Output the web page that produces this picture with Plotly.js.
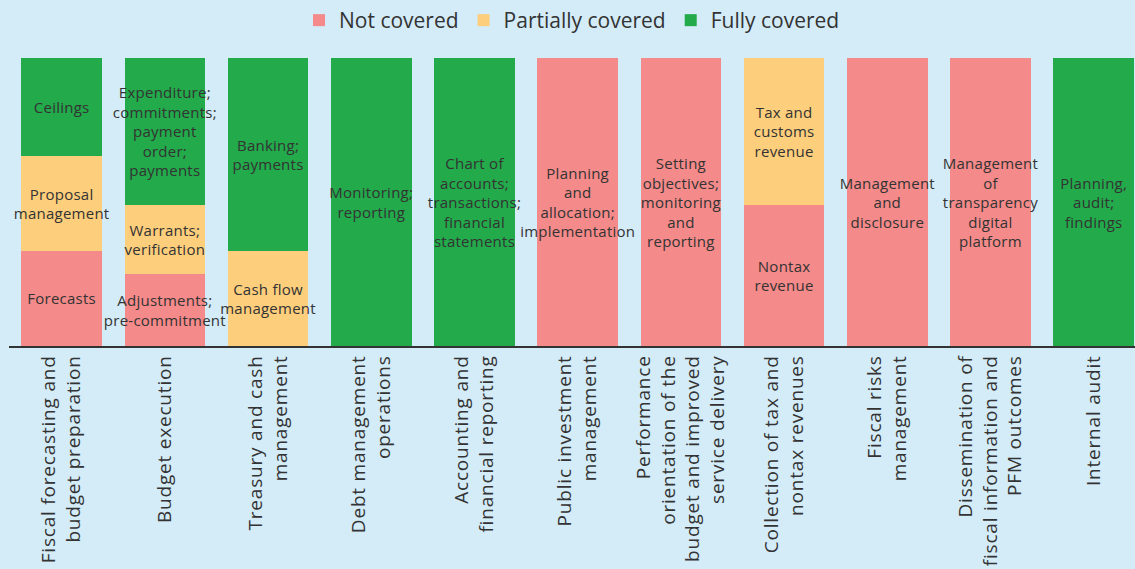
<!DOCTYPE html>
<html>
<head>
<meta charset="utf-8">
<script src="https://cdn.plot.ly/plotly-3.0.1.min.js"></script>
<style>
  html, body { margin: 0; padding: 0; background: #d3ecf8; }
  #chart { width: 1135px; height: 569px; }
  /* the original face runs wider than Open Sans */
  #chart g.xtick text { letter-spacing: 0.8px; }
  #chart text.bartext { letter-spacing: 0.25px; }
</style>
</head>
<body>
<div id="chart"></div>
<script>
// PFM functions and how much of each the system covers (share of the function, %)
const categories = [
    'Fiscal forecasting and<br>budget preparation',
    'Budget execution',
    'Treasury and cash<br>management',
    'Debt management<br>operations',
    'Accounting and<br>financial reporting',
    'Public investment<br>management',
    'Performance<br>orientation of the<br>budget and improved<br>service delivery',
    'Collection of tax and<br>nontax revenues',
    'Fiscal risks<br>management',
    'Dissemination of<br>fiscal information and<br>PFM outcomes',
    'Internal audit'
];

const notCovered       = [33, 25,  0,   0,   0, 100, 100, 49, 100, 100,   0];
const partiallyCovered = [33, 24, 33,   0,   0,   0,   0, 51,   0,   0,   0];
const fullyCovered     = [34, 51, 67, 100, 100,   0,   0,  0,   0,   0, 100];

const notLabels = [
    'Forecasts', 'Adjustments;<br>pre-commitment', '', '', '',
    'Planning<br>and<br>allocation;<br>implementation',
    'Setting<br>objectives;<br>monitoring<br>and<br>reporting',
    'Nontax<br>revenue', 'Management<br>and<br>disclosure',
    'Management<br>of<br>transparency<br>digital<br>platform', ''
];
const partialLabels = [
    'Proposal<br>management', 'Warrants;<br>verification', 'Cash flow<br>management',
    '', '', '', '', 'Tax and<br>customs<br>revenue', '', '', ''
];
const fullLabels = [
    'Ceilings', 'Expenditure;<br>commitments;<br>payment<br>order;<br>payments',
    'Banking;<br>payments', 'Monitoring;<br>reporting',
    'Chart of<br>accounts;<br>transactions;<br>financial<br>statements',
    '', '', '', '', '', 'Planning,<br>audit;<br>findings'
];

const seriesNames = ['Not covered', 'Partially covered', 'Fully covered'];
const seriesColors = ['#f48a89', '#fdce7b', '#22aa4b'];

const FONT = '"Open Sans", "Noto Sans", sans-serif';
const TEXT_COLOR = '#333333';

function makeTrace(values, labels, name, color) {
    return {
        type: 'bar',
        x: categories,
        y: values,
        name: name,
        text: labels,
        textposition: 'inside',
        insidetextanchor: 'middle',
        constraintext: 'none',
        textangle: 0,
        insidetextfont: { family: FONT, size: 15, color: TEXT_COLOR },
        marker: { color: color, line: { width: 0 } },
        hoverinfo: 'x+y+name',
        cliponaxis: false
    };
}

const data = [
    makeTrace(notCovered, notLabels, seriesNames[0], seriesColors[0]),
    makeTrace(partiallyCovered, partialLabels, seriesNames[1], seriesColors[1]),
    makeTrace(fullyCovered, fullLabels, seriesNames[2], seriesColors[2])
];

const layout = {
    width: 1135,
    height: 569,
    barmode: 'stack',
    bargap: 0.22,
    paper_bgcolor: '#d3ecf8',
    plot_bgcolor: '#d3ecf8',
    margin: { t: 58, r: 0, b: 223, l: 9 },
    font: { family: FONT, color: TEXT_COLOR },
    showlegend: true,
    legend: {
        orientation: 'h',
        traceorder: 'normal',
        x: 0.5,
        xanchor: 'center',
        y: 1.132,
        yanchor: 'middle',
        font: { family: FONT, size: 21, color: TEXT_COLOR },
        itemwidth: 30,
        itemclick: false,
        itemdoubleclick: false
    },
    xaxis: {
        type: 'category',
        range: [-0.51, 10.4],
        tickangle: -90,
        tickfont: { family: FONT, size: 19, color: TEXT_COLOR },
        showline: true,
        linecolor: '#333333',
        linewidth: 1.5,
        ticks: '',
        showgrid: false,
        zeroline: false,
        fixedrange: true
    },
    yaxis: {
        range: [0, 100],
        visible: false,
        showgrid: false,
        zeroline: false,
        fixedrange: true
    }
};

Plotly.newPlot('chart', data, layout, { displayModeBar: false, responsive: false });
</script>
</body>
</html>
